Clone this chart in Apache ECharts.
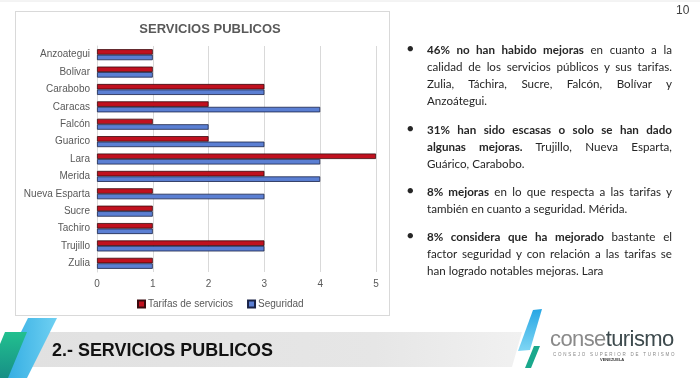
<!DOCTYPE html>
<html>
<head>
<meta charset="utf-8">
<script src="https://cdn.jsdelivr.net/npm/echarts@6/dist/echarts.min.js"></script>
<style>
  html, body { margin:0; padding:0; background:#fff; }
  #slide { position:relative; width:700px; height:378px; overflow:hidden; background:#fff; font-family:"Liberation Sans", Arial, sans-serif; }
  #box { position:absolute; left:15px; top:11px; width:375px; height:305px; border:1px solid #d9d9d9; box-sizing:border-box; }
  #chart { position:absolute; left:0; top:0; width:700px; height:378px; z-index:2; }
  #text { position:absolute; left:405px; top:41px; width:267px; z-index:3; font-family:Lato, "Noto Sans", sans-serif; font-size:11.6px; color:#262626; }
  .p { position:relative; padding-left:22px; margin:0; }
  .p .bul { position:absolute; left:2px; top:0; font-size:11px; }
  .ln { display:block; height:17px; line-height:17px; white-space:nowrap; }
  .j { text-align:justify; text-align-last:justify; white-space:normal; overflow:hidden; }
  #pg { position:absolute; left:676px; top:3px; font-size:12px; color:#404040; z-index:3; }
  #bandtxt { position:absolute; left:52px; top:339px; font-size:18.5px; font-weight:bold; color:#111; z-index:3; font-family:"Liberation Sans", Arial, sans-serif; transform:scaleX(0.97); transform-origin:left; }
  #logo { position:absolute; left:550px; top:327px; z-index:3; }
  #logo .big { font-family:"Liberation Sans", Arial, sans-serif; font-size:22px; letter-spacing:-0.6px; line-height:24px; }
  #logo .small { font-size:4.5px; letter-spacing:1.75px; color:#888; margin-top:1px; margin-left:3px; white-space:nowrap; }
  #logo .ven { font-size:4px; color:#333; margin-left:50px; font-weight:bold; }
  svg { position:absolute; left:0; top:0; z-index:1; }
</style>
</head>
<body>
<div id="slide">
  <svg width="700" height="378">
    <defs>
      <linearGradient id="bg" x1="0" y1="0" x2="1" y2="0">
        <stop offset="0" stop-color="#e1e1e1"/>
        <stop offset="0.7" stop-color="#e6e6e6"/>
        <stop offset="1" stop-color="#f1f1f1"/>
      </linearGradient>
      <linearGradient id="bl" x1="0" y1="0" x2="1" y2="0">
        <stop offset="0" stop-color="#2aa8e0"/>
        <stop offset="1" stop-color="#6fd0f2"/>
      </linearGradient>
      <linearGradient id="rb" x1="0" y1="0" x2="0" y2="1">
        <stop offset="0" stop-color="#27a6e4"/>
        <stop offset="1" stop-color="#7fd6f4"/>
      </linearGradient>
      <linearGradient id="tl" x1="0" y1="0" x2="0" y2="1">
        <stop offset="0" stop-color="#22c08f"/>
        <stop offset="1" stop-color="#178f86"/>
      </linearGradient>
    </defs>
    <line x1="0" y1="1" x2="700" y2="1" stroke="#e8e8e8"/>
    <polygon points="46,332 522,332 512,367 30,367" fill="url(#bg)"/>
    <polygon points="28,318 57,318 27,378 -2,378" fill="url(#bl)"/>
    <polygon points="5,332 27,332 8,378 -14,378" fill="url(#tl)"/>
    <polygon points="533,310 542,309 530,350 518,351" fill="url(#rb)"/>
    <polygon points="534,346 540,346 531,368 525,368" fill="#1aa88c"/>
  </svg>
  <div id="box"></div>
  <div id="bandtxt">2.- SERVICIOS PUBLICOS</div>
  <div id="pg">10</div>
  <div id="logo">
    <div class="big"><span style="color:#8a8a8a;font-weight:300">conse</span><span style="color:#3d4a4d">turismo</span></div>
    <div class="small">CONSEJO SUPERIOR DE TURISMO</div>
    <div class="ven">VENEZUELA</div>
  </div>
  <div id="text">
    <div class="p"><span class="bul">&#9679;</span>
      <span class="ln j"><b>46% no han habido mejoras</b> en cuanto a la</span>
      <span class="ln j">calidad de los servicios públicos y sus tarifas.</span>
      <span class="ln j">Zulia, Táchira, Sucre, Falcón, Bolívar y</span>
      <span class="ln">Anzoátegui.</span>
    </div>
    <div style="height:12px"></div>
    <div class="p"><span class="bul">&#9679;</span>
      <span class="ln j"><b>31% han sido escasas o solo se han dado</b></span>
      <span class="ln j"><b>algunas mejoras.</b> Trujillo, Nueva Esparta,</span>
      <span class="ln">Guárico, Carabobo.</span>
    </div>
    <div style="height:11px"></div>
    <div class="p"><span class="bul">&#9679;</span>
      <span class="ln j"><b>8% mejoras</b> en lo que respecta a las tarifas y</span>
      <span class="ln">también en cuanto a seguridad. Mérida.</span>
    </div>
    <div style="height:11px"></div>
    <div class="p"><span class="bul">&#9679;</span>
      <span class="ln j"><b>8% considera que ha mejorado</b> bastante el</span>
      <span class="ln j">factor seguridad y con relación a las tarifas se</span>
      <span class="ln">han logrado notables mejoras. Lara</span>
    </div>
  </div>
  <div id="chart"></div>
</div>
<script>
var categories = ["Anzoategui","Bolivar","Carabobo","Caracas","Falcón","Guarico","Lara","Merida","Nueva Esparta","Sucre","Tachiro","Trujillo","Zulia"];
var tarifas   = [1,1,3,2,1,2,5,3,1,1,1,3,1];
var seguridad = [1,1,3,4,2,3,4,4,3,1,1,3,1];
var xTicks = [0,1,2,3,4,5];

var chart = echarts.init(document.getElementById('chart'), null, {renderer:'canvas'});
chart.setOption({
  backgroundColor: 'transparent',
  animation: false,
  title: {
    text: 'SERVICIOS PUBLICOS', left: 205, top: 18, textAlign: 'center',
    textStyle: { fontFamily: '"Liberation Sans", Arial, sans-serif', fontSize: 13, fontWeight: 'bold', color: '#595959' }
  },
  legend: {
    left: 132, top: 294, itemWidth: 7, itemHeight: 7, itemGap: 14,
    icon: 'rect',
    textStyle: { fontFamily: '"Liberation Sans", Arial, sans-serif', fontSize: 10, color: '#595959', padding: [0,0,0,-2] },
    data: ['Tarifas de servicios', 'Seguridad']
  },
  grid: { left: 97, right: 324, top: 46, bottom: 106, containLabel: false },
  xAxis: {
    type: 'value', min: xTicks[0], max: xTicks[xTicks.length-1], interval: 1,
    axisLine: { show: false }, axisTick: { show: false },
    splitLine: { lineStyle: { color: '#d9d9d9', width: 1 } },
    axisLabel: { color: '#595959', fontSize: 10, margin: 7, fontFamily: '"Liberation Sans", Arial, sans-serif' }
  },
  yAxis: {
    type: 'category', data: categories, inverse: true,
    axisLine: { show: true, lineStyle: { color: '#d9d9d9' } }, axisTick: { show: false },
    axisLabel: { color: '#595959', fontSize: 10, margin: 7, fontFamily: '"Liberation Sans", Arial, sans-serif' }
  },
  series: [
    { name: 'Tarifas de servicios', type: 'bar', data: tarifas, barWidth: 5.5, barGap: '0%',
      itemStyle: { color: '#c0111f', borderColor: '#3a0a0e', borderWidth: 0.8 } },
    { name: 'Seguridad', type: 'bar', data: seguridad, barWidth: 5.5, barGap: '0%',
      itemStyle: { color: '#5b7fd3', borderColor: '#1a2347', borderWidth: 0.8 } }
  ]
});
</script>
</body>
</html>
